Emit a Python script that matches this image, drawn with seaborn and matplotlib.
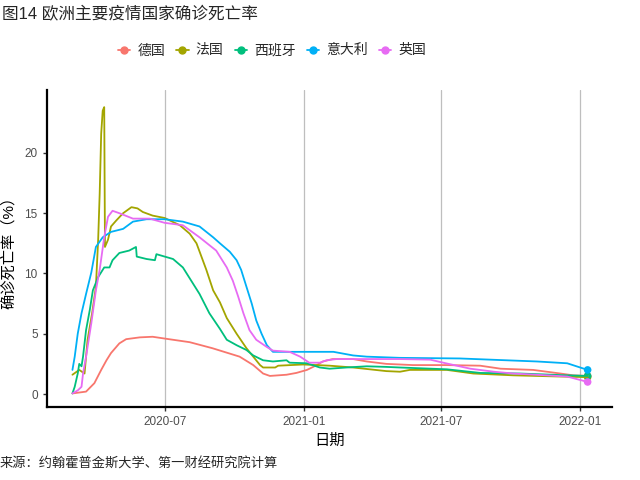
import pandas as pd
import matplotlib.pyplot as plt
import matplotlib.dates as mdates
from matplotlib.lines import Line2D
import seaborn as sns

sns.set_style("white")
plt.rcParams['font.family'] = ['Liberation Sans', 'Noto Sans CJK SC', 'DejaVu Sans']

countries = ['德国', '法国', '西班牙', '意大利', '英国']
colors = ['#F8766D', '#A3A500', '#00BF7D', '#00B0F6', '#E76BF3']

de_dates = ['2020-03-01', '2020-03-19', '2020-03-30', '2020-04-08', '2020-04-15', '2020-04-21',
            '2020-05-02', '2020-05-11', '2020-05-29', '2020-06-15', '2020-07-01', '2020-08-03',
            '2020-09-02', '2020-10-08', '2020-10-26', '2020-11-08', '2020-11-17', '2020-12-09',
            '2020-12-22', '2021-01-05', '2021-01-18', '2021-01-26', '2021-02-08', '2021-03-07',
            '2021-03-25', '2021-04-20', '2021-05-08', '2021-05-25', '2021-07-09', '2021-08-22',
            '2021-09-18', '2021-10-31', '2021-11-18', '2021-12-06', '2021-12-23', '2022-01-11']
de_vals = [0.05, 0.2, 0.9, 2.0, 2.8, 3.4, 4.2, 4.55, 4.7, 4.75, 4.6, 4.3,
           3.8, 3.1, 2.4, 1.7, 1.5, 1.6, 1.75, 2.0, 2.4, 2.7, 2.9, 2.9,
           2.7, 2.5, 2.45, 2.4, 2.4, 2.35, 2.1, 2.0, 1.85, 1.7, 1.55, 1.5]

fr_dates = ['2020-03-01', '2020-03-10', '2020-03-17', '2020-03-21', '2020-03-27', '2020-04-01',
            '2020-04-04', '2020-04-06', '2020-04-08', '2020-04-10', '2020-04-12', '2020-04-13',
            '2020-04-17', '2020-04-21', '2020-04-28', '2020-05-07', '2020-05-18', '2020-05-26',
            '2020-06-02', '2020-06-15', '2020-07-01', '2020-07-21', '2020-08-03', '2020-08-12',
            '2020-08-25', '2020-09-03', '2020-09-12', '2020-09-21', '2020-10-04', '2020-10-17',
            '2020-10-26', '2020-11-04', '2020-11-08', '2020-11-24', '2020-11-28', '2020-12-31',
            '2021-02-04', '2021-03-07', '2021-03-29', '2021-04-20', '2021-05-08', '2021-05-21',
            '2021-07-09', '2021-08-13', '2021-10-05', '2021-12-06', '2022-01-11']
fr_vals = [1.6, 2.0, 1.7, 4.5, 6.7, 8.9,
           12.8, 16.6, 21.6, 23.5, 23.8, 12.2,
           12.8, 13.9, 14.4, 15.0, 15.5, 15.4,
           15.1, 14.8, 14.6, 14.0, 13.3, 12.5,
           10.3, 8.6, 7.6, 6.3, 5.0, 3.8,
           3.1, 2.4, 2.2, 2.2, 2.35, 2.45,
           2.35, 2.2, 2.05, 1.9, 1.85, 2.0,
           2.0, 1.7, 1.55, 1.45, 1.4]

es_dates = ['2020-03-01', '2020-03-04', '2020-03-08', '2020-03-10', '2020-03-13', '2020-03-15',
            '2020-03-19', '2020-03-24', '2020-03-28', '2020-04-04', '2020-04-12', '2020-04-19',
            '2020-04-23', '2020-05-02', '2020-05-15', '2020-05-24', '2020-05-25', '2020-06-07',
            '2020-06-18', '2020-06-20', '2020-07-01', '2020-07-12', '2020-07-25', '2020-08-07',
            '2020-08-16', '2020-08-29', '2020-09-12', '2020-09-21', '2020-10-04', '2020-10-17',
            '2020-10-26', '2020-11-08', '2020-11-21', '2020-12-09', '2020-12-13', '2021-01-05',
            '2021-01-22', '2021-02-04', '2021-02-26', '2021-03-25', '2021-04-20', '2021-05-08',
            '2021-07-09', '2021-08-22', '2021-10-14', '2021-12-15', '2022-01-11']
es_vals = [0.05, 0.6, 1.7, 2.5, 2.3, 3.1,
           5.3, 7.0, 8.6, 9.7, 10.5, 10.5,
           11.1, 11.7, 11.9, 12.2, 11.4, 11.2,
           11.1, 11.6, 11.4, 11.2, 10.5, 9.2,
           8.3, 6.7, 5.4, 4.5, 4.05, 3.65,
           3.2, 2.8, 2.7, 2.8, 2.6, 2.55,
           2.2, 2.1, 2.2, 2.3, 2.25, 2.2,
           2.05, 1.75, 1.7, 1.55, 1.5]

it_dates = ['2020-03-01', '2020-03-04', '2020-03-08', '2020-03-13', '2020-03-19', '2020-03-26',
            '2020-04-01', '2020-04-10', '2020-04-21', '2020-05-07', '2020-05-20', '2020-06-07',
            '2020-07-01', '2020-07-25', '2020-08-16', '2020-09-03', '2020-09-12', '2020-09-25',
            '2020-10-04', '2020-10-10', '2020-10-17', '2020-10-24', '2020-10-30', '2020-11-06',
            '2020-11-13', '2020-11-21', '2020-12-31', '2021-02-09', '2021-03-07', '2021-03-25',
            '2021-05-08', '2021-07-26', '2021-11-05', '2021-12-15', '2022-01-11']
it_vals = [2.0, 3.1, 5.0, 6.7, 8.3, 10.1,
           12.2, 13.0, 13.45, 13.7, 14.3, 14.5,
           14.5, 14.3, 13.9, 13.0, 12.5, 11.8,
           11.1, 10.3, 8.9, 7.5, 6.1, 5.0,
           4.05, 3.5, 3.5, 3.5, 3.2, 3.1,
           3.0, 2.95, 2.7, 2.55, 2.0]

uk_dates = ['2020-03-01', '2020-03-08', '2020-03-13', '2020-03-15', '2020-03-19', '2020-03-26',
            '2020-04-01', '2020-04-06', '2020-04-12', '2020-04-17', '2020-04-23', '2020-05-02',
            '2020-05-20', '2020-06-11', '2020-07-01', '2020-07-25', '2020-08-16', '2020-09-07',
            '2020-09-21', '2020-09-29', '2020-10-06', '2020-10-13', '2020-10-21', '2020-10-30',
            '2020-11-13', '2020-11-21', '2020-12-13', '2020-12-27', '2021-01-08', '2021-01-22',
            '2021-01-31', '2021-02-13', '2021-05-08', '2021-06-17', '2021-07-04', '2021-08-09',
            '2021-09-09', '2021-10-05', '2021-11-18', '2021-12-15', '2022-01-11']
uk_vals = [0.05, 0.3, 0.6, 1.7, 3.1, 5.9,
           8.6, 10.3, 13.0, 14.7, 15.2, 15.0,
           14.55, 14.55, 14.2, 14.0, 13.0, 11.9,
           10.5, 9.4, 8.1, 6.7, 5.3, 4.5,
           3.9, 3.6, 3.5, 3.1, 2.6, 2.6,
           2.8, 2.9, 2.9, 2.85, 2.6, 2.1,
           1.85, 1.7, 1.55, 1.45, 1.0]

series = [(de_dates, de_vals), (fr_dates, fr_vals), (es_dates, es_vals),
          (it_dates, it_vals), (uk_dates, uk_vals)]
frames = []
for name, (d, v) in zip(countries, series):
    frames.append(pd.DataFrame({'日期': pd.to_datetime(d), '死亡率': v, '国家': name}))
df = pd.concat(frames, ignore_index=True)
last = df.groupby('国家', sort=False).tail(1)

fig = plt.figure(figsize=(6.4, 4.8), dpi=100)
ax = fig.add_axes([0.073, 0.152, 0.883, 0.66])
sns.lineplot(data=df, x='日期', y='死亡率', hue='国家', hue_order=countries,
             palette=colors, linewidth=1.3, legend=False, ax=ax)
sns.scatterplot(data=last, x='日期', y='死亡率', hue='国家', hue_order=countries,
                palette=colors, s=30, edgecolor='none', legend=False, ax=ax)

ax.set_xlim(pd.Timestamp('2020-01-27'), pd.Timestamp('2022-02-12'))
ax.set_ylim(-1.08, 25.2)
ax.set_yticks([0, 5, 10, 15, 20])
ax.xaxis.set_major_locator(mdates.MonthLocator(bymonth=[1, 7]))
ax.xaxis.set_major_formatter(mdates.DateFormatter('%Y-%m'))
ax.grid(axis='x', color='#BEBEBE', linewidth=0.9)
ax.grid(axis='y', visible=False)
for s in ['top', 'right']:
    ax.spines[s].set_visible(False)
for s in ['left', 'bottom']:
    ax.spines[s].set_color('black')
    ax.spines[s].set_linewidth(1.6)
ax.tick_params(axis='both', length=3, width=1, color='#333333', labelsize=8.5,
               labelcolor='#4D4D4D', bottom=True, left=True)
ax.set_xlabel('日期', fontsize=11, color='black', labelpad=4)
ax.set_ylabel('确诊死亡率（%）', fontsize=11, color='black', labelpad=6)

fig.text(0.003, 0.97, '图14 欧洲主要疫情国家确诊死亡率', fontsize=12, ha='left', va='center')
fig.text(0.0, 0.032, '来源：约翰霍普金斯大学、第一财经研究院计算', fontsize=9.5, ha='left', va='center')

handles = [Line2D([0], [0], color=c, linewidth=1.3, marker='o', markersize=5) for c in colors]
fig.legend(handles, countries, loc='center', bbox_to_anchor=(0.425, 0.895), ncol=5,
           frameon=False, fontsize=10, handlelength=0.9, handletextpad=0.5, columnspacing=0.8)

fig.savefig('out.png', dpi=100)
